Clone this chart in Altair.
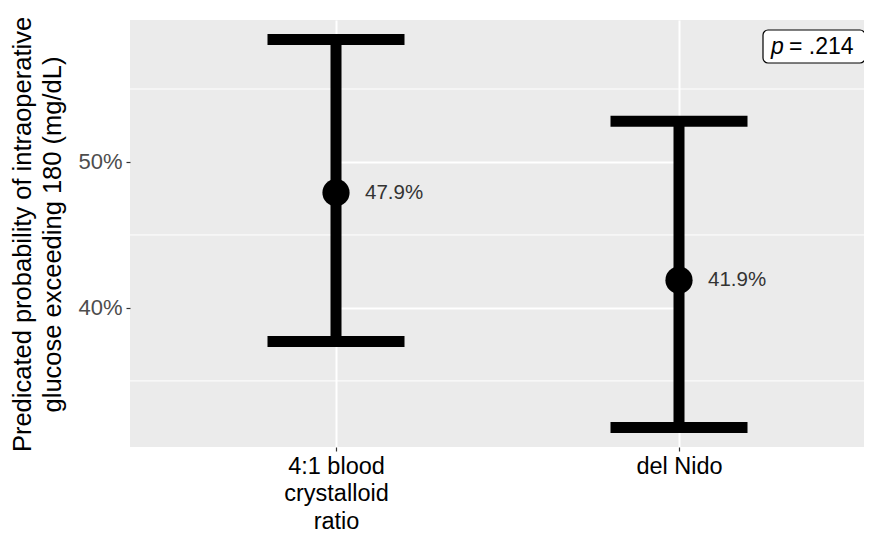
import altair as alt
import pandas as pd

# ---- data ----
groups = ["4:1 blood\ncrystalloid\nratio", "del Nido"]
estimates = [47.9, 41.9]
lower = [37.7, 31.8]
upper = [58.4, 52.8]
value_labels = ["47.9%", "41.9%"]
major_ticks = [40, 50]
minor_ticks = [35, 45, 55]
p_text = "= .214"

df = pd.DataFrame({"group": groups, "est": estimates, "lo": lower, "hi": upper, "lab": value_labels})
minor_df = pd.DataFrame({"y": minor_ticks})
note_df = pd.DataFrame({"t": [p_text]})

lo_all, hi_all = min(lower), max(upper)
pad = 0.05 * (hi_all - lo_all)
y_scale = alt.Scale(domain=[lo_all - pad, hi_all + pad], nice=False, zero=False)

FONT = "Liberation Sans"
W, H = 734, 427

x_enc = alt.X(
    "group:N", sort=groups,
    scale=alt.Scale(type="point", range=[206, 549], padding=0),
    axis=alt.Axis(
        title=None, labelAngle=0, domain=False, grid=True, gridColor="white", gridWidth=2,
        tickColor="#333333", tickSize=4, tickWidth=1.2, labelPadding=3,
        labelFontSize=23.5, labelColor="#000000", labelFont=FONT, labelLineHeight=27.5,
        labelBaseline="top",
        labelExpr="split(datum.label, '\\n')",
    ),
)

y_axis = alt.Axis(
    values=major_ticks, labelExpr="datum.value + '%'", domain=False, grid=True,
    gridColor="white", gridWidth=2, tickColor="#333333", tickSize=4, tickWidth=1.2,
    labelPadding=4, labelFontSize=22, labelColor="#4D4D4D", labelFont=FONT,
    title=["Predicated probability of intraoperative", "glucose exceeding 180 (mg/dL)"],
    titleFontSize=25.5, titleFont=FONT, titleFontWeight="normal", titleColor="#000000",
    titleX=-120, titleY=214, titleBaseline="top", titleLineHeight=30, titleAngle=270,
)

minor = alt.Chart(minor_df).mark_rule(color="white", strokeWidth=1).encode(
    y=alt.Y("y:Q", scale=y_scale, axis=y_axis)
)

stems = alt.Chart(df).mark_rule(color="black", strokeWidth=11).encode(
    x=x_enc, y=alt.Y("lo:Q", scale=y_scale, axis=y_axis), y2="hi:Q"
)
cap_lo = alt.Chart(df).mark_tick(color="black", thickness=11, size=137, opacity=1).encode(
    x=x_enc, y=alt.Y("lo:Q", scale=y_scale)
)
cap_hi = alt.Chart(df).mark_tick(color="black", thickness=11, size=137, opacity=1).encode(
    x=x_enc, y=alt.Y("hi:Q", scale=y_scale)
)
points = alt.Chart(df).mark_circle(color="black", size=740, opacity=1).encode(
    x=x_enc, y=alt.Y("est:Q", scale=y_scale)
)
texts = alt.Chart(df).mark_text(
    align="left", baseline="middle", dx=29, fontSize=20.5, color="#333333", font=FONT
).encode(x=x_enc, y=alt.Y("est:Q", scale=y_scale), text="lab:N")

box = alt.Chart(note_df).mark_rect(
    fill="white", stroke="black", strokeWidth=1.2, cornerRadius=5
).encode(x=alt.value(633), x2=alt.value(735), y=alt.value(10), y2=alt.value(43))
p_it = alt.Chart(note_df).mark_text(
    text="p", fontStyle="italic", fontSize=23, align="left", baseline="middle", font=FONT, color="black"
).encode(x=alt.value(641), y=alt.value(27))
p_rest = alt.Chart(note_df).mark_text(
    fontSize=23, align="left", baseline="middle", font=FONT, color="black"
).encode(x=alt.value(659), y=alt.value(27), text="t:N")

chart = alt.layer(minor, stems, cap_lo, cap_hi, points, texts, box, p_it, p_rest).properties(
    width=W, height=H,
    autosize=alt.AutoSizeParams(type="none"),
    padding={"left": 122, "top": 12, "right": 0, "bottom": 88},
).configure(font=FONT, background="white").configure_view(fill="#EBEBEB", strokeWidth=0)

chart.save("out.html", embed_options={"renderer": "svg", "actions": False})
